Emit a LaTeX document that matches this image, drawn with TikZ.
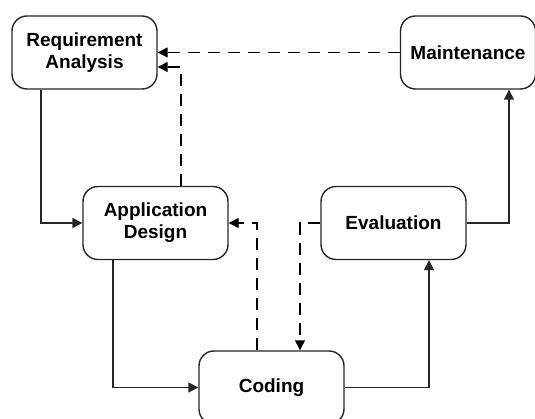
\documentclass[tikz,border=0pt]{standalone}
\usepackage{fontspec}
\setmainfont{Liberation Sans}
\usetikzlibrary{arrows.meta,positioning,calc}

\begin{document}
\begin{tikzpicture}
[x=1pt,y=-1pt,line width=1.4pt,color={black!85},
phase/.style={draw,rounded corners=15pt,minimum width=145pt,minimum height=73pt,inner sep=0pt,align=center,font=\fontsize{19}{22}\selectfont\bfseries,text=black},
flow/.style={-{Triangle[length=10pt,width=10pt]}},
back/.style={flow,dash pattern=on 12pt off 8pt,color=black},]

%Frame of the picture
\useasboundingbox (0,0) rectangle (535,419);

%Phases
\node[phase] (RA) at (84.5,52.5) {Requirement\\Analysis};
\node[phase,minimum width=135pt] (MT) at (468,52.5) {Maintenance};
\node[phase] (AD) at (155.5,223) {Application\\Design};
\node[phase] (EV) at (393.5,223) {Evaluation};
\node[phase] (CD) at (271.5,387.5) {Coding};

%Forward steps
\draw[flow] ([xshift=-43.5pt]RA.south) |- (AD.west);
\draw[flow] ([xshift=-42.5pt]AD.south) |- (CD.west);
\draw[flow] (CD.east) -| ([xshift=35.5pt]EV.south);
\draw[flow] (EV.east) -| ([xshift=41pt]MT.south);

%Feedback steps
\draw[back] (MT.west) -- (RA.east);
\draw[back] ([xshift=25.5pt]AD.north) |- ([yshift=-14.5pt]RA.east);
\draw[back] ([xshift=-14.5pt]CD.north) |- (AD.east);
\draw[back] (EV.west) -| ([xshift=28.5pt]CD.north);

\end{tikzpicture}
\end{document}
